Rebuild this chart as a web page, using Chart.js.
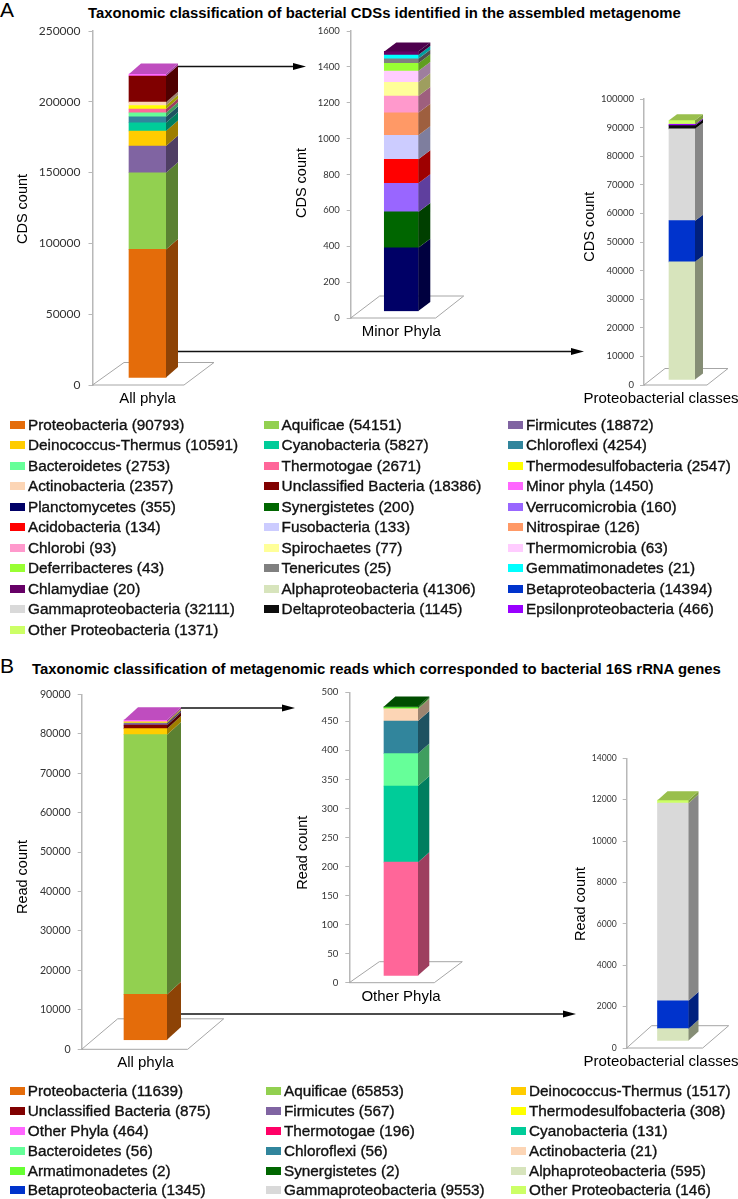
<!DOCTYPE html>
<html>
<head>
<meta charset="utf-8">
<title>Taxonomic classification</title>
<script src="https://cdn.jsdelivr.net/npm/chart.js"></script>
<style>
  html, body { margin: 0; padding: 0; background: #fff; }
  #page { position: relative; width: 738px; height: 1199px; overflow: hidden; font-family: "Liberation Sans", Arial, sans-serif; color: #000; }
  #page canvas { position: absolute; }
  #arrows { position: absolute; left: 0; top: 0; }
  .letter { position: absolute; font-size: 21px; line-height: 24px; }
  .heading { position: absolute; font-size: 14.85px; font-weight: bold; line-height: 18px; white-space: nowrap; }
  .key { position: absolute; font-size: 15.3px; line-height: 18px; white-space: nowrap; color: #111; -webkit-text-stroke: 0.35px #111; }
  .key i { position: absolute; left: -18px; top: 5px; width: 15px; height: 8px; }
</style>
</head>
<body>
<div id="page">
  <div class="letter" style="left:0;top:-2px">A</div>
  <div class="heading" style="left:88px;top:4px">Taxonomic classification of bacterial CDSs identified in the assembled metagenome</div>
  <div class="letter" style="left:0;top:654px">B</div>
  <div class="heading" style="left:32px;top:660px">Taxonomic classification of metagenomic reads which corresponded to bacterial 16S rRNA genes</div>

  <canvas id="a1"></canvas><canvas id="a2"></canvas><canvas id="a3"></canvas>
  <canvas id="b1"></canvas><canvas id="b2"></canvas><canvas id="b3"></canvas>

  <svg id="arrows" width="738" height="1199">
    <g stroke="#111" stroke-width="1.3">
      <line x1="178" y1="66.5" x2="295" y2="66.5"/>
      <line x1="178" y1="351.5" x2="573" y2="351.5"/>
      <line x1="181" y1="708" x2="285" y2="708"/>
      <line x1="181" y1="1014" x2="565" y2="1014"/>
    </g>
    <polygon points="293,63 306,66.5 293,70"/>
    <polygon points="571,348 584,351.5 571,355"/>
    <polygon points="282,704.5 295,708 282,711.5"/>
    <polygon points="563,1010.5 576,1014 563,1017.5"/>
  </svg>
</div>

<script>
// legend of panel A, in reading order
const cdsNames = ['Proteobacteria','Aquificae','Firmicutes','Deinococcus-Thermus','Cyanobacteria','Chloroflexi',
  'Bacteroidetes','Thermotogae','Thermodesulfobacteria','Actinobacteria','Unclassified Bacteria','Minor phyla',
  'Planctomycetes','Synergistetes','Verrucomicrobia','Acidobacteria','Fusobacteria','Nitrospirae',
  'Chlorobi','Spirochaetes','Thermomicrobia','Deferribacteres','Tenericutes','Gemmatimonadetes',
  'Chlamydiae','Alphaproteobacteria','Betaproteobacteria','Gammaproteobacteria','Deltaproteobacteria','Epsilonproteobacteria',
  'Other Proteobacteria'];
const cdsCounts = [90793,54151,18872,10591,5827,4254,2753,2671,2547,2357,18386,1450,355,200,160,134,133,126,93,77,63,43,25,21,20,41306,14394,32111,1145,466,1371];

// legend of panel B, in reading order
const readNames = ['Proteobacteria','Aquificae','Deinococcus-Thermus','Unclassified Bacteria','Firmicutes','Thermodesulfobacteria',
  'Other Phyla','Thermotogae','Cyanobacteria','Bacteroidetes','Chloroflexi','Actinobacteria',
  'Armatimonadetes','Synergistetes','Alphaproteobacteria','Betaproteobacteria','Gammaproteobacteria','Other Proteobacteria'];
const readCounts = [11639,65853,1517,875,567,308,464,196,131,56,56,21,2,2,595,1345,9553,146];

// stacking order of each bar, bottom to top
const cdsAllPhyla = ['Proteobacteria','Aquificae','Firmicutes','Deinococcus-Thermus','Cyanobacteria','Chloroflexi','Bacteroidetes','Thermotogae','Thermodesulfobacteria','Actinobacteria','Unclassified Bacteria','Minor phyla'];
const cdsMinor = ['Planctomycetes','Synergistetes','Verrucomicrobia','Acidobacteria','Fusobacteria','Nitrospirae','Chlorobi','Spirochaetes','Thermomicrobia','Deferribacteres','Tenericutes','Gemmatimonadetes','Chlamydiae'];
const cdsClasses = ['Alphaproteobacteria','Betaproteobacteria','Gammaproteobacteria','Deltaproteobacteria','Epsilonproteobacteria','Other Proteobacteria'];
const readAllPhyla = ['Proteobacteria','Aquificae','Deinococcus-Thermus','Unclassified Bacteria','Firmicutes','Thermodesulfobacteria','Other Phyla'];
const readOther = ['Thermotogae','Cyanobacteria','Bacteroidetes','Chloroflexi','Actinobacteria','Armatimonadetes','Synergistetes'];
const readClasses = ['Alphaproteobacteria','Betaproteobacteria','Gammaproteobacteria','Other Proteobacteria'];

const colours = {
  'Proteobacteria':'#E46C0A','Aquificae':'#92D050','Firmicutes':'#8064A2','Deinococcus-Thermus':'#FFCC00',
  'Cyanobacteria':'#00CC99','Chloroflexi':'#31859C','Bacteroidetes':'#66FF99','Thermotogae':'#FF6699',
  'Thermodesulfobacteria':'#FFFF00','Actinobacteria':'#FCD5B5','Unclassified Bacteria':'#800000',
  'Minor phyla':'#FF66FF','Other Phyla':'#FF66FF','Planctomycetes':'#000066','Synergistetes':'#006600',
  'Verrucomicrobia':'#9966FF','Acidobacteria':'#FF0000','Fusobacteria':'#CCCCFF','Nitrospirae':'#FF9966',
  'Chlorobi':'#FF99CC','Spirochaetes':'#FFFF99','Thermomicrobia':'#FFCCFF','Deferribacteres':'#99FF33',
  'Tenericutes':'#808080','Gemmatimonadetes':'#00FFFF','Chlamydiae':'#660066','Armatimonadetes':'#66FF33',
  'Alphaproteobacteria':'#D7E4BC','Betaproteobacteria':'#0033CC','Gammaproteobacteria':'#D9D9D9',
  'Deltaproteobacteria':'#0D0D0D','Epsilonproteobacteria':'#9900FF','Other Proteobacteria':'#CCFF66'
};
const legendBThermotogae = '#FF0066'; // swatch is stronger than the bar in panel B

function shade(hex, f) {
  const n = parseInt(hex.slice(1), 16);
  const c = [n >> 16, (n >> 8) & 255, n & 255].map(v => Math.round(v * f));
  return 'rgb(' + c.join(',') + ')';
}

// fake 3D: floor under the bar, then side and top faces taken from the bar elements
const box3d = {
  id: 'box3d',
  beforeDatasetsDraw(chart, args, o) {
    const c = chart.ctx, x0 = chart.scales.y.right, y0 = chart.scales.y.getPixelForValue(0);
    c.save();
    c.strokeStyle = '#a6a6a6';
    c.lineWidth = 1;
    c.beginPath();
    c.moveTo(x0, y0);
    c.lineTo(x0 + o.floorW, y0);
    c.lineTo(x0 + o.floorW + o.floorDx, y0 - o.floorDy);
    c.lineTo(x0 + o.floorBack, y0 - o.floorDy);
    c.closePath();
    c.stroke();
    c.restore();
    c.save();
    c.translate(0, -o.lift);
  },
  afterDatasetsDraw(chart, args, o) {
    const c = chart.ctx;
    c.restore();
    const n = chart.data.datasets.length;
    chart.data.datasets.forEach((ds, i) => {
      const bar = chart.getDatasetMeta(i).data[0];
      const r = bar.x + bar.width / 2, l = bar.x - bar.width / 2;
      const top = bar.y - o.lift, bot = bar.base - o.lift;
      c.fillStyle = shade(ds.backgroundColor, 0.62);
      c.beginPath();
      c.moveTo(r, top);
      c.lineTo(r + o.dx, top - o.dy);
      c.lineTo(r + o.dx, bot - o.dy);
      c.lineTo(r, bot);
      c.closePath();
      c.fill();
      if (i === n - 1) {
        c.fillStyle = shade(ds.backgroundColor, 0.75);
        c.beginPath();
        c.moveTo(l, top);
        c.lineTo(l + o.dx, top - o.dy);
        c.lineTo(r + o.dx, top - o.dy);
        c.lineTo(r, top);
        c.closePath();
        c.fill();
      }
    });
    // axis title sits off centre in some panels, so it is placed by hand
    c.save();
    c.translate(o.titleX, o.titleY);
    c.rotate(-Math.PI / 2);
    c.font = '14.5px "Liberation Sans"';
    c.fillStyle = '#000';
    c.textAlign = 'center';
    c.textBaseline = 'middle';
    c.fillText(o.title, 0, 0);
    c.restore();
  }
};

function draw(p) {
  const cv = document.getElementById(p.id);
  const [left, top, w, h] = p.box;
  cv.style.left = left + 'px';
  cv.style.top = top + 'px';
  cv.width = w;
  cv.height = h;
  const right = 2 * p.barX - p.axisX;
  new Chart(cv, {
    type: 'bar',
    data: {
      labels: [p.label],
      datasets: p.stack.map(name => ({
        label: name,
        data: [p.counts[p.names.indexOf(name)]],
        backgroundColor: colours[name],
        barThickness: p.barW,
        borderWidth: 0
      }))
    },
    options: {
      responsive: false,
      animation: false,
      devicePixelRatio: 1,
      layout: { padding: { top: p.yTop - top, right: left + w - right, left: 0, bottom: 0 } },
      plugins: {
        legend: { display: false },
        tooltip: { enabled: false },
        box3d: {
          lift: p.lift, dx: p.dx, dy: p.dy,
          floorW: p.floor[0], floorDx: p.floor[1], floorDy: p.floor[2], floorBack: p.floor[3],
          title: p.title, titleX: p.titleX - left, titleY: p.titleY - top
        }
      },
      scales: {
        x: {
          stacked: true,
          grid: { display: false, drawTicks: false },
          border: { display: false },
          // the label is wider than the plot; keep it from squeezing the plot
          afterFit: s => { s.height = top + h - p.yZero; s.paddingLeft = 0; s.paddingRight = 0; },
          ticks: {
            color: '#000',
            padding: 5,
            maxRotation: 0,
            labelOffset: p.labelShift || 0,
            font: { family: 'Liberation Sans', size: 15 }
          }
        },
        y: {
          stacked: true,
          min: 0,
          max: p.max,
          afterFit: s => { s.width = p.axisX - left; s.paddingTop = 0; s.paddingBottom = 0; },
          grid: { drawOnChartArea: false, color: '#b8b8b8', tickLength: 4 },
          border: { color: '#b8b8b8', width: 1.5 },
          ticks: {
            stepSize: p.step,
            color: '#333',
            padding: p.tickPad,
            callback: v => String(v),
            font: { family: 'Lato', size: p.tickSize }
          }
        }
      }
    },
    plugins: [box3d]
  });
}

const panels = [
  { id:'a1', names:cdsNames, counts:cdsCounts, stack:cdsAllPhyla, label:'All phyla', title:'CDS count', box:[0,22,262,392], axisX:92.5, yTop:31, yZero:385, barX:147.5, barW:37, lift:7, dx:12, dy:10.5, floor:[91.5,30,22.5,31.5], max:250000, step:50000, tickSize:12, tickPad:8, titleX:23, titleY:209 },
  { id:'a2', names:cdsNames, counts:cdsCounts, stack:cdsMinor, label:'Minor Phyla', title:'CDS count', box:[280,22,200,320], axisX:350.7, yTop:31, yZero:318, barX:401.3, barW:34, lift:6.5, dx:12, dy:9, floor:[85,28,22,29], max:1600, step:200, tickSize:9.5, tickPad:7, titleX:301.7, titleY:183 },
  { id:'a3', names:cdsNames, counts:cdsCounts, stack:cdsClasses, label:'Proteobacterial classes', title:'CDS count', box:[570,90,168,320], axisX:644, yTop:99, yZero:385, barX:682, barW:26, lift:5, dx:8, dy:6, floor:[63,21,16.5,21], max:100000, step:10000, tickSize:9.5, tickPad:6, labelShift:-21, titleX:590, titleY:226.7 },
  { id:'b1', names:readNames, counts:readCounts, stack:readAllPhyla, label:'All phyla', title:'Read count', box:[0,685,262,390], axisX:81.7, yTop:694.3, yZero:1049.3, barX:145.5, barW:43, lift:9, dx:14, dy:12.7, floor:[106,36,30.5,36], max:90000, step:10000, tickSize:10.6, tickPad:7, titleX:23, titleY:877 },
  { id:'b2', names:readNames, counts:readCounts, stack:readOther, label:'Other Phyla', title:'Read count', box:[280,685,200,325], axisX:349.3, yTop:692.3, yZero:982.7, barX:401, barW:34, lift:6.7, dx:11.3, dy:10, floor:[85,28,21,30], max:500, step:50, tickSize:9.6, tickPad:7, titleX:303, titleY:852.7 },
  { id:'b3', names:readNames, counts:readCounts, stack:readClasses, label:'Proteobacterial classes', title:'Read count', box:[570,750,168,325], axisX:626.7, yTop:758.3, yZero:1048, barX:673, barW:31, lift:7, dx:10, dy:9, floor:[76,26,22.3,25], max:14000, step:2000, tickSize:8.6, tickPad:6, labelShift:-12, titleX:581, titleY:904 }
];
panels.forEach(draw);

// html legends, three columns
function legend(names, counts, columns, firstY, stepY) {
  const page = document.getElementById('page');
  names.forEach((name, i) => {
    const el = document.createElement('div');
    el.className = 'key';
    el.style.left = columns[i % 3] + 'px';
    el.style.top = (firstY + stepY * Math.floor(i / 3) - 9) + 'px';
    const sw = document.createElement('i');
    const isB = names === readNames && name === 'Thermotogae';
    sw.style.background = isB ? legendBThermotogae : colours[name];
    el.appendChild(sw);
    el.appendChild(document.createTextNode(name + ' (' + counts[i] + ')'));
    page.appendChild(el);
  });
}
legend(cdsNames, cdsCounts, [28, 281.6, 526], 424.7, 20.5);
legend(readNames, readCounts, [27.8, 284, 529], 1090.7, 19.95);
</script>
</body>
</html>
